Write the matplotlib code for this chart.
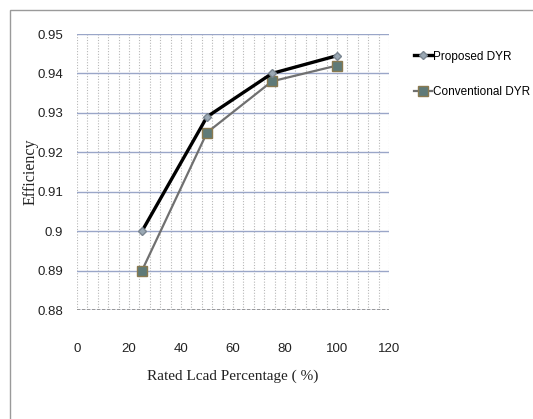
import matplotlib
matplotlib.use("Agg")
import matplotlib.pyplot as plt
from matplotlib.patches import Rectangle
from matplotlib.ticker import MultipleLocator

load_pct = [25, 50, 75, 100]
proposed = [0.900, 0.929, 0.940, 0.9445]
conventional = [0.890, 0.925, 0.938, 0.942]
x_ticks = [0, 20, 40, 60, 80, 100, 120]
y_ticks = [0.88, 0.89, 0.9, 0.91, 0.92, 0.93, 0.94, 0.95]
y_labels = ["0.88", "0.89", "0.9", "0.91", "0.92", "0.93", "0.94", "0.95"]

sans = ["Liberation Sans", "DejaVu Sans"]
serif = ["Liberation Serif", "DejaVu Serif"]

fig = plt.figure(figsize=(5.33, 4.19), dpi=100)
fig.patches.append(Rectangle((10 / 533, -0.05), 1.1, 1 - 10 / 419 + 0.05,
                             transform=fig.transFigure, fill=False,
                             edgecolor="#9a9a9a", linewidth=1.0))
ax = fig.add_axes([77 / 533, 1 - 310 / 419, 312 / 533, 276 / 419])

ax.plot(load_pct, proposed, color="black", linewidth=2.4, marker="D",
        markersize=4.5, markerfacecolor="#9aa8b4", markeredgecolor="#7a8590",
        label="Proposed DYR", zorder=4)
ax.plot(load_pct, conventional, color="#707070", linewidth=1.6, marker="s",
        markersize=7, markerfacecolor="#5f7a78", markeredgecolor="#8a7a50",
        label="Conventional DYR", zorder=3)

ax.set_xlim(0, 120)
ax.set_ylim(0.88, 0.95)
ax.set_xticks(x_ticks)
ax.set_yticks(y_ticks)
ax.set_yticklabels(y_labels)
ax.xaxis.set_minor_locator(MultipleLocator(4))
ax.grid(axis="y", which="major", color="#9aa6c8", linewidth=1.0)
ax.grid(axis="x", which="both", color="#b8b8b8", linestyle=(0, (1, 1.5)),
        linewidth=0.8)
for s in ax.spines.values():
    s.set_visible(False)
ax.axhline(0.88, color="#8a8a8a", linewidth=1.2, linestyle=(0, (2, 1)))
ax.tick_params(length=0, which="both", labelsize=9.5, colors="#222222")
ax.tick_params(axis="x", pad=24)
ax.tick_params(axis="y", pad=10)
for lab in ax.get_xticklabels() + ax.get_yticklabels():
    lab.set_family(sans)

ax.set_xlabel("Rated Lcad Percentage ( %)", family=serif, fontsize=11,
              labelpad=10, color="#222222")
ax.set_ylabel("Efficiency", family=serif, fontsize=11.5, color="#222222")
ax.yaxis.set_label_coords(-0.122, 0.5)

ax.legend(loc="upper left", bbox_to_anchor=(1.08, 0.94), frameon=False,
          borderaxespad=0, borderpad=0, handlelength=1.5, handletextpad=0.15,
          labelspacing=2.0, prop={"family": sans, "size": 8.5})

fig.savefig("out.png", dpi=100)
